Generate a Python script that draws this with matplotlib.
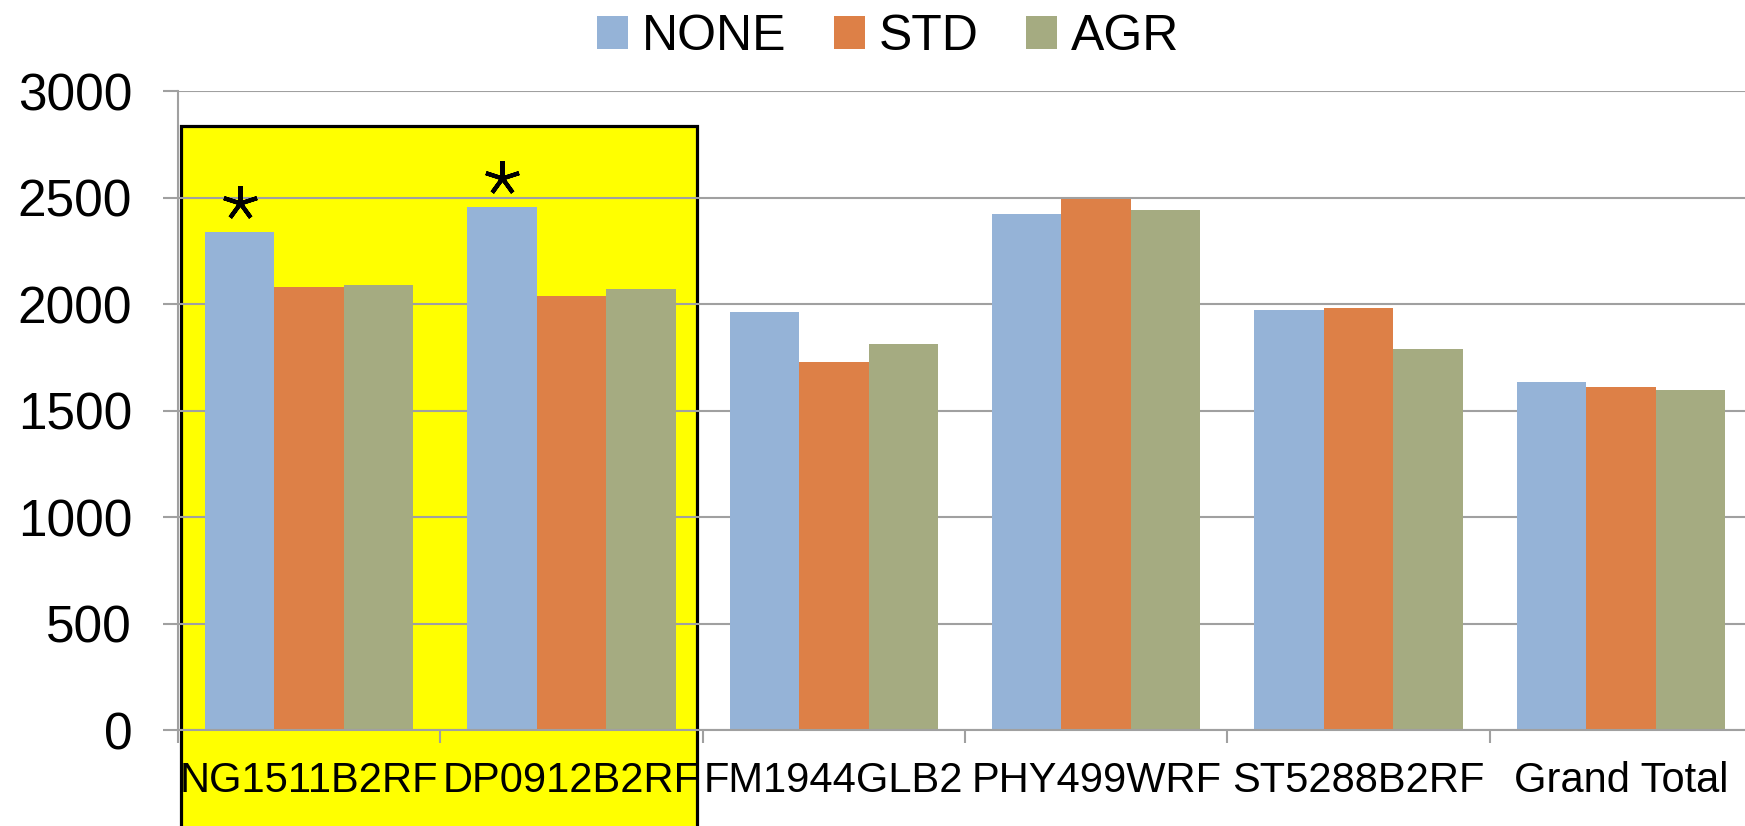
import numpy as np
import matplotlib
matplotlib.use("Agg")
import matplotlib.pyplot as plt
from matplotlib.patches import Rectangle
from matplotlib.transforms import offset_copy

plt.rcParams['font.family'] = ['Liberation Sans', 'DejaVu Sans']

# data
varieties = ["NG1511B2RF", "DP0912B2RF", "FM1944GLB2", "PHY499WRF", "ST5288B2RF", "Grand Total"]
none_vals = [2338, 2458, 1962, 2422, 1971, 1636]
std_vals = [2081, 2038, 1727, 2494, 1981, 1609]
agr_vals = [2090, 2070, 1812, 2441, 1789, 1598]
series = ["NONE", "STD", "AGR"]
starred = [0, 1]          # NONE bars marked with *
highlighted = [0, 1]      # categories in the yellow box

colors = ['#95B3D7', '#DD8047', '#A5AB81']

fig = plt.figure(figsize=(17.45, 8.26), dpi=100)
ax = fig.add_axes([0.102, 0.1162, 0.902, 0.7733])

x = np.arange(len(varieties))
w = 0.265
for i, (vals, c, name) in enumerate(zip([none_vals, std_vals, agr_vals], colors, series)):
    ax.bar(x + (i - 1) * w, vals, w, color=c, label=name, zorder=2)

# asterisks above the NONE bars
star_tr = offset_copy(ax.transData, fig=fig, x=0, y=21, units='points')
for k in starred:
    ax.plot(x[k] - w, none_vals[k], marker=(5, 2, 0), markersize=25, markeredgewidth=3,
            color='black', transform=star_tr, zorder=3, clip_on=False)

# yellow highlight box, runs past the bottom of the axes
x0 = x[highlighted[0]] - 0.49
x1 = x[highlighted[-1]] + 0.48
box = Rectangle((x0, -600), x1 - x0, 2838 + 600, facecolor='#FFFF00', edgecolor='black',
                linewidth=2.3, zorder=0.2, clip_on=False)
ax.add_patch(box)

ax.set_xlim(-0.5, 5.5)
ax.set_ylim(0, 3000)
ax.set_yticks(np.arange(0, 3001, 500))
ax.yaxis.grid(True, color='#A0A0A0', linewidth=1.5, zorder=0.5)
ax.set_axisbelow(True)

ax.set_xticks(x)
ax.set_xticklabels(varieties, fontsize=30)
ax.set_xticks(np.arange(-0.5, 6, 1), minor=True)
ax.tick_params(axis='x', which='major', length=0, pad=22)
ax.tick_params(axis='x', which='minor', length=9, width=1.5, color='#A0A0A0')
ax.tick_params(axis='y', labelsize=37, length=11, width=1.5, color='#A0A0A0', pad=22)

for s in ['top', 'right']:
    ax.spines[s].set_visible(False)
for s in ['left', 'bottom']:
    ax.spines[s].set_color('#A0A0A0')
    ax.spines[s].set_linewidth(1.5)

fig.legend(loc='center', bbox_to_anchor=(0.509, 0.955), ncol=3, frameon=False, fontsize=36,
           handlelength=0.62, handleheight=0.62, handletextpad=0.28, columnspacing=0.95,
           borderpad=0)

fig.savefig('out.png', dpi=100)
